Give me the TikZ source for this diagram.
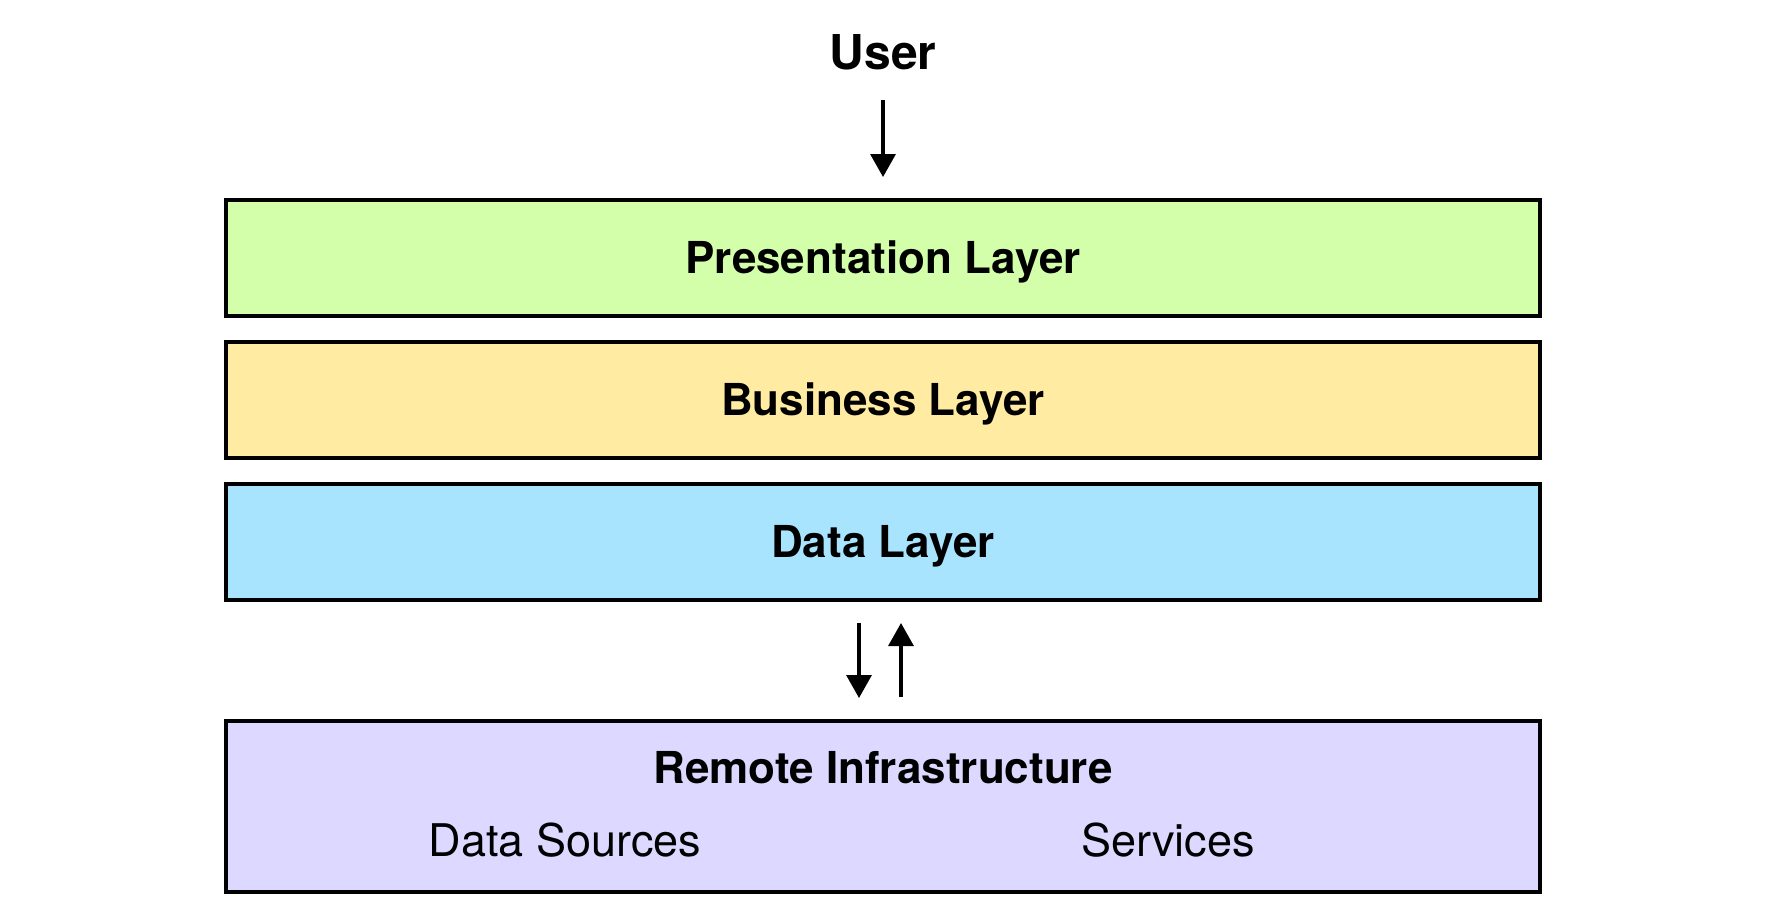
\documentclass[tikz,border=0pt]{standalone}
\usepackage{fontspec}
\setmainfont{TeX Gyre Heros}
\usepackage{tikz}
\usetikzlibrary{arrows.meta,positioning}
\usepackage{xcolor}
\definecolor{laygreen}{HTML}{D4FFAA}
\definecolor{layyellow}{HTML}{FFEBA1}
\definecolor{layblue}{HTML}{A9E4FF}
\definecolor{laypurple}{HTML}{DDD8FF}

\begin{document}
\begin{tikzpicture}[x=0.5pt, y=-0.5pt,
  layer/.style={draw=black, line width=2pt, minimum width=657pt, minimum height=58pt,
    inner sep=0pt, text height=15.8pt, text depth=0pt, font=\fontsize{22}{26}\selectfont\bfseries},
  flow/.style={line width=1.6pt, -{Triangle[length=11.5pt,width=12.5pt]}}]
  \useasboundingbox (0,0) rectangle (1766,918);
  \node[font=\fontsize{24}{28}\selectfont\bfseries] (user) at (883,52) {User};
  \node[layer, fill=laygreen] (pres) at (883,258) {Presentation Layer};
  \node[layer, fill=layyellow] (busi) at (883,400) {Business Layer};
  \node[layer, fill=layblue] (data) at (883,542) {Data Layer};
  \node[layer, fill=laypurple, minimum height=85.5pt] (remote) at (883,806.5) {};
  \node[font=\fontsize{22}{26}\selectfont\bfseries] (remtitle) at (883,768) {Remote Infrastructure};
  \node[font=\fontsize{22.5}{26}\selectfont] (sources) at (565,840) {Data Sources};
  \node[font=\fontsize{22.5}{26}\selectfont] (services) at (1168,840) {Services};
  \coordinate (ustart) at (883,100);
  \draw[flow, shorten >=10.5pt] (ustart) -- (pres.north);
  \draw[flow, shorten <=10.5pt, shorten >=10.5pt] ([xshift=-12pt]data.south) -- ([xshift=-12pt]remote.north);
  \draw[flow, shorten <=11pt, shorten >=10.5pt] ([xshift=9pt]remote.north) -- ([xshift=9pt]data.south);
\end{tikzpicture}
\end{document}
